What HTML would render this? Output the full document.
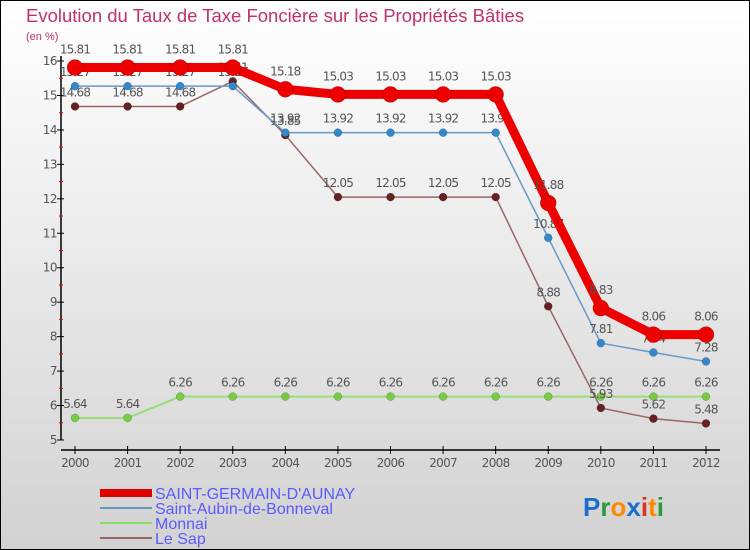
<!DOCTYPE html>
<html><head><meta charset="utf-8"><style>
body{margin:0}
#c{width:750px;height:550px;position:relative;overflow:hidden}
svg text{font-family:"DejaVu Sans","Liberation Sans",sans-serif}
svg text.lib{font-family:"Liberation Sans",sans-serif}
</style></head><body>
<div id="c">
<svg id="s" width="750" height="550" xmlns="http://www.w3.org/2000/svg">
<defs><linearGradient id="bg" x1="0" y1="0" x2="0" y2="1"><stop offset="0" stop-color="#ffffff"/><stop offset="1" stop-color="#d2d2d2"/></linearGradient></defs>
<rect x="0.5" y="0.5" width="749" height="549" fill="url(#bg)" stroke="#000"/>
<text class="lib" x="26" y="22" font-size="18.5" fill="#c0306a">Evolution du Taux de Taxe Foncière sur les Propriétés Bâties</text>
<text class="lib" x="26" y="40" font-size="11" fill="#c0306a">(en %)</text>
<g id="axes"></g><g id="series"></g>
<g>
<rect x="100" y="489" width="52" height="8" fill="#e00000"/>
<text class="lib" x="155" y="499" font-size="16" fill="#5a5aff">SAINT-GERMAIN-D'AUNAY</text>
<line x1="100" y1="508" x2="152" y2="508" stroke="#6699bb" stroke-width="2"/>
<text class="lib" x="155" y="514" font-size="16" fill="#5a5aff">Saint-Aubin-de-Bonneval</text>
<line x1="100" y1="523" x2="152" y2="523" stroke="#88dd66" stroke-width="2"/>
<text class="lib" x="155" y="529" font-size="16" fill="#5a5aff">Monnai</text>
<line x1="100" y1="538" x2="152" y2="538" stroke="#996666" stroke-width="2"/>
<text class="lib" x="155" y="544" font-size="16" fill="#5a5aff">Le Sap</text>
</g>
<text class="lib" x="583" y="516" font-size="26" font-weight="bold"><tspan fill="#1a6fcc">P</tspan><tspan fill="#2a9a3a">r</tspan><tspan fill="#ff8800">o</tspan><tspan fill="#1a6fcc">x</tspan><tspan fill="#e03020">i</tspan><tspan fill="#ff8800">t</tspan><tspan fill="#2a9a3a">i</tspan></text>
</svg></div>
<script>
const years=[2000,2001,2002,2003,2004,2005,2006,2007,2008,2009,2010,2011,2012];
const yTicks=[5,6,7,8,9,10,11,12,13,14,15,16];
const sgValues=[15.81,15.81,15.81,15.81,15.18,15.03,15.03,15.03,15.03,11.88,8.83,8.06,8.06];
const sabValues=[15.27,15.27,15.27,15.27,13.92,13.92,13.92,13.92,13.92,10.87,7.81,7.54,7.28];
const monnaiValues=[5.64,5.64,6.26,6.26,6.26,6.26,6.26,6.26,6.26,6.26,6.26,6.26,6.26];
const lesapValues=[14.68,14.68,14.68,15.41,13.85,12.05,12.05,12.05,12.05,8.88,5.93,5.62,5.48];
const NS="http://www.w3.org/2000/svg";
const xS=i=>75+i*(706-75)/12;
const yS=v=>440-(v-5)*(440-61)/11;
function mk(t,a,p){const e=document.createElementNS(NS,t);for(const k in a)e.setAttribute(k,a[k]);p.appendChild(e);return e;}
const ax=document.getElementById('axes');
const yAxis=mk('line',{x1:61,y1:56,x2:61,y2:440,stroke:'#000','stroke-width':1.5},ax);


const xAxis=mk('line',{x1:61,y1:450,x2:720,y2:450,stroke:'#000','stroke-width':1.5},ax);


yTicks.forEach(v=>{
  mk('line',{x1:57,y1:yS(v),x2:64,y2:yS(v),stroke:'#000'},ax);
  if(v<16)mk('line',{x1:59,y1:yS(v+0.5),x2:63,y2:yS(v+0.5),stroke:'#e00'},ax);
  const t=mk('text',{x:57,y:yS(v)+4,'font-size':12,fill:'#555','text-anchor':'end','letter-spacing':'-0.5'},ax);t.textContent=v;
  
  
});
years.forEach((y,i)=>{
  mk('line',{x1:xS(i),y1:446,x2:xS(i),y2:454,stroke:'#000'},ax);
  const t=mk('text',{x:xS(i),y:467,'font-size':12,fill:'#555','text-anchor':'middle','letter-spacing':'-0.7'},ax);t.textContent=y;
  
  
});
const sg=document.getElementById('series');
function series(vals,color,dot,lw,r,name,labOff){
  const g=mk('g',{},sg);
  
  
  mk('polyline',{points:vals.map((v,i)=>xS(i)+','+yS(v)).join(' '),fill:'none',stroke:color,'stroke-width':lw,'stroke-linejoin':'round'},g);
  vals.forEach((v,i)=>{
    const c=mk('circle',{cx:xS(i),cy:yS(v),r:r,fill:dot,stroke:'rgba(0,0,0,0.3)','stroke-width':0.5},g);
    
    
    const t=mk('text',{x:xS(i),y:yS(v)+labOff,'font-size':12,fill:'#555','text-anchor':'middle','letter-spacing':'-0.8'},g);
    t.textContent=v.toFixed(2);
    
    
  });
}
series(monnaiValues,'#99dd77','#77cc44',2,4,'series-monnai',-10);
series(lesapValues,'#996666','#662222',1.5,4,'series-le-sap',-10);
series(sabValues,'#6699cc','#3388cc',1.5,4,'series-saint-aubin',-10);
series(sgValues,'#ee0000','#ee0000',9,8,'series-saint-germain',-14);
</script>
</body></html>
